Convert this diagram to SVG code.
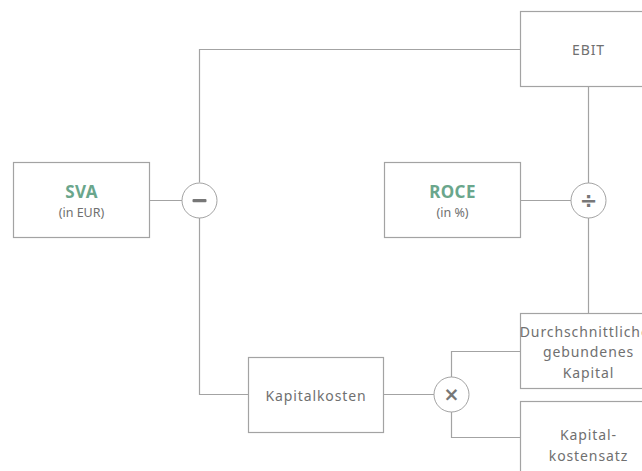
<svg xmlns="http://www.w3.org/2000/svg" width="642" height="471" viewBox="0 0 642 471">
<style>
.box{fill:#fff;stroke:#a3a3a3;stroke-width:1.2}
.op{fill:#fff;stroke:#a3a3a3;stroke-width:1}
.ln{fill:none;stroke:#a3a3a3;stroke-width:1.2}
.t{font-family:"Noto Sans","Open Sans",sans-serif;font-size:14px;fill:#707070;text-anchor:middle;letter-spacing:0.9px}
.h{font-family:"Noto Sans","Open Sans",sans-serif;font-size:17px;font-weight:bold;fill:#6aa68c;text-anchor:middle;letter-spacing:0.4px}
.s{font-family:"Noto Sans","Open Sans",sans-serif;font-size:12.5px;fill:#707070;text-anchor:middle}
.sym{font-family:"DejaVu Sans",sans-serif;font-weight:bold;fill:#777;text-anchor:middle}
</style>
<g id="connectors">
<path class="ln" d="M520 49.5H199.5V182.5"/>
<path class="ln" d="M199.5 217.5V394.5H248.5"/>
<path class="ln" d="M149.5 200.5H182"/>
<path class="ln" d="M588.5 86.5V183"/>
<path class="ln" d="M588.5 218V313.5"/>
<path class="ln" d="M520.5 200.5H571"/>
<path class="ln" d="M383.5 394.5H434"/>
<path class="ln" d="M451.5 377V351.5H520"/>
<path class="ln" d="M451.5 412V437.5H520"/>
</g>
<g id="sva">
<rect class="box" x="13.5" y="162.5" width="136" height="75"/>
<text class="h" x="81.5" y="198">SVA</text>
<text class="s" x="81.5" y="217">(in EUR)</text>
</g>
<g id="minus">
<circle class="op" cx="199.5" cy="200.5" r="17.5"/>
<rect x="192.5" y="199" width="14" height="3.2" rx="1" fill="#777"/>
</g>
<g id="ebit">
<rect class="box" x="520.5" y="11.5" width="136" height="75"/>
<text class="t" x="588.5" y="54.5">EBIT</text>
</g>
<g id="roce">
<rect class="box" x="384.5" y="162.5" width="136" height="75"/>
<text class="h" x="452.5" y="198">ROCE</text>
<text class="s" x="452.5" y="217">(in %)</text>
</g>
<g id="divide">
<circle class="op" cx="588.5" cy="200.5" r="17.5"/>
<text class="sym" x="588.5" y="207.5" font-size="21">÷</text>
</g>
<g id="kapitalkosten">
<rect class="box" x="248.5" y="357.5" width="135" height="75"/>
<text class="t" x="316" y="400.5">Kapitalkosten</text>
</g>
<g id="times">
<circle class="op" cx="451.5" cy="394.5" r="17.5"/>
<text class="sym" x="451.5" y="401" font-size="19">×</text>
</g>
<g id="kapital">
<rect class="box" x="520.5" y="313.5" width="136" height="75"/>
<text class="t" x="588.5" y="336.5">Durchschnittliches</text>
<text class="t" x="588.5" y="357">gebundenes</text>
<text class="t" x="588.5" y="378">Kapital</text>
</g>
<g id="satz">
<rect class="box" x="520.5" y="401.5" width="136" height="75"/>
<text class="t" x="588.5" y="440">Kapital-</text>
<text class="t" x="588.5" y="460.5">kostensatz</text>
</g>
</svg>
